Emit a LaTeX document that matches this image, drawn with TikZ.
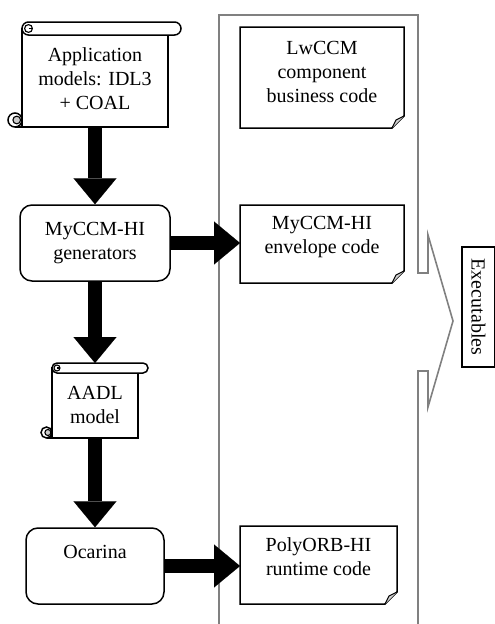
\documentclass[tikz,border=0pt]{standalone}
\usepackage{fontspec}
\setmainfont{Liberation Serif}
\usetikzlibrary{arrows.meta,calc}
\newcommand\myscroll[3]{%
  \pgfmathsetmacro\myra{0.3*#2}%
  \pgfmathsetmacro\myrb{0.55*#3}%
  \draw[sline, fill=white] ($(#1.north west)+(0,#2/2)$) -- (#1.south west) -- (#1.south east) -- ($(#1.north east)+(0,#2/2)$) -- cycle;
  \draw[sline, fill=white, rounded corners=#2/2 pt] (#1.north west) rectangle ($(#1.north east)+(#2,#2)$);
  \draw[sline, line width=1.1pt] ($(#1.north west)+(#2/2,#2/2)$) circle[radius=\myra pt];
  \draw[sline, line width=1.1pt] ($(#1.north west)+(#2/2,#2/2)$) -- ($(#1.north west)+(#2/2+\myra,#2/2)$);
  \draw[sline, fill=white] ($(#1.south west)+(-#3,-#3)$) circle[radius=#3 pt];
  \draw[sline, line width=1.1pt, fill=gray!40] ($(#1.south west)+(-0.75*#3,-#3)$) circle[radius=\myrb pt];
  \draw[sline] ($(#1.south west)+(-#3,0)$) -- (#1.south west);
}
\newcommand\mydoc[1]{%
  \draw[sline, fill=white] (#1.north west) -- (#1.north east) -- ($(#1.south east)+(0,-12)$) -- ($(#1.south east)+(-12,0)$) -- (#1.south west) -- cycle;
  \draw[sline, line width=1.1pt, fill=gray!35, line join=round] ($(#1.south east)+(0,-12)$) -- ($(#1.south east)+(-8,-8)$) -- ($(#1.south east)+(-12,0)$);
}
\begin{document}
\begin{tikzpicture}[x=1pt,y=-1pt,
  font=\fontsize{20}{24}\selectfont,
  sline/.style={draw=black, line width=1.5pt},
  shapebox/.style={draw=none, rectangle, inner sep=0pt, outer sep=0pt},
  txt/.style={align=center, inner sep=0pt},
  rbox/.style={draw=black, line width=1.5pt, rounded corners=12pt, inner sep=0pt, align=center, fill=white},
  blk/.style={line width=14pt, -{Triangle[length=26pt,width=43pt,line width=0.1pt]}},
  gline/.style={draw=black!50, line width=1.6pt}]
\useasboundingbox (0,0) rectangle (495,624);

% gray bracket
\draw[gline] (219,624) -- (219,15) -- (418,15) -- (418,273) -- (428,273) -- (428,235) -- (453,321) -- (428,407) -- (428,371) -- (418,371) -- (418,624);

% left column
\node[shapebox, minimum width=146pt, minimum height=105pt] (app) at (95,74.5) {};
\myscroll{app}{13}{7}
\node[txt] (apptxt) at (95,79) {Application\\models: IDL3\\+ COAL};

\node[rbox, minimum width=150pt, minimum height=76pt] (gen) at (95,243) {MyCCM-HI\\generators};

\node[shapebox, minimum width=86pt, minimum height=75pt] (aadl) at (95,400.5) {};
\myscroll{aadl}{10}{5.5}
\node[txt] (aadltxt) at (95,405) {AADL\\model};

\node[rbox, minimum width=138pt, minimum height=76pt] (oca) at (95,566) {};
\node[txt] (ocatxt) at (95,552) {Ocarina};

% right column
\node[shapebox, minimum width=164pt, minimum height=101pt] (lw) at (322,77.5) {};
\mydoc{lw}
\node[txt] (lwtxt) at (322,72) {LwCCM\\component\\business code};

\node[shapebox, minimum width=164pt, minimum height=78pt] (env) at (322,244) {};
\mydoc{env}
\node[txt] (envtxt) at (322,237) {MyCCM-HI\\envelope code};

\node[shapebox, minimum width=157pt, minimum height=78pt] (poly) at (318.5,565) {};
\mydoc{poly}
\node[txt] (polytxt) at (318.5,557) {PolyORB-HI\\runtime code};

\node[draw=black, line width=1.5pt, rotate=-90, minimum width=120pt, minimum height=33pt, inner sep=0pt] (exe) at (478.5,307) {Executables};

% block arrows
\draw[blk] (app.south) -- (gen.north);
\draw[blk] (gen.east) -- (gen.east -| env.west);
\draw[blk] (gen.south) -- (aadl.north);
\draw[blk] (aadl.south) -- (oca.north);
\draw[blk] (oca.east) -- (oca.east -| poly.west);
\end{tikzpicture}
\end{document}
